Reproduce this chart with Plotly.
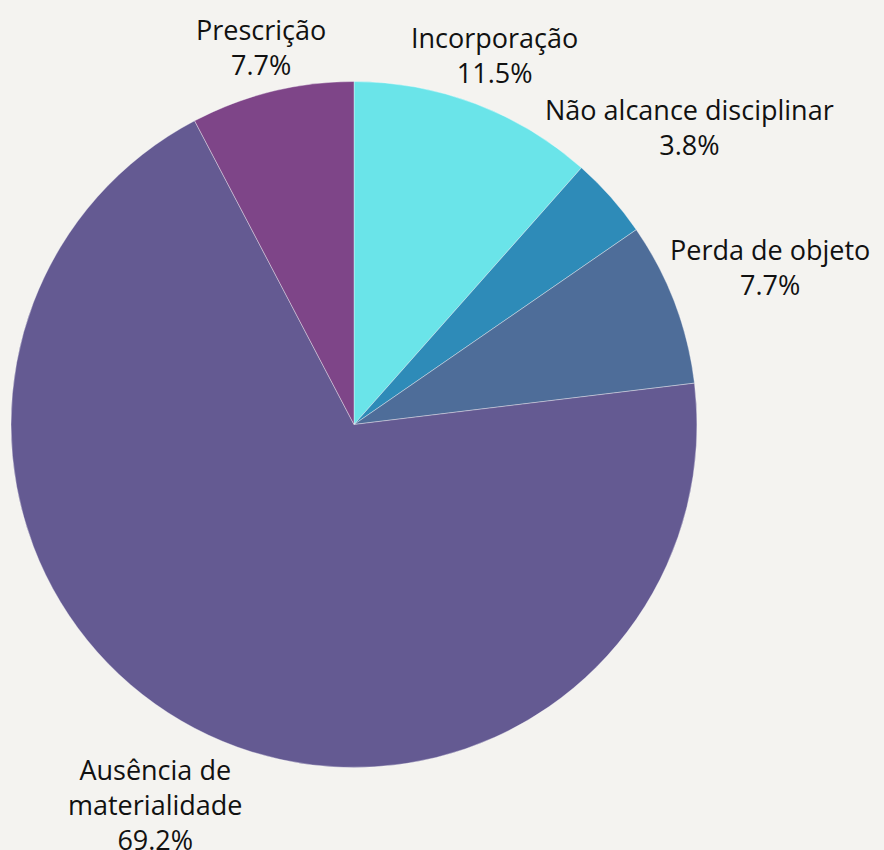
import math
import plotly.graph_objects as go

labels = ["Incorporação", "Não alcance disciplinar", "Perda de objeto",
          "Ausência de materialidade", "Prescrição"]
display_labels = ["Incorporação", "Não alcance disciplinar", "Perda de objeto",
                  "Ausência de<br>materialidade", "Prescrição"]
values = [3, 1, 2, 18, 2]
colors = ["#6ae4e9", "#2e8bb8", "#4e6d99", "#645a92", "#7e4588"]

# label distance from pie centre, as a multiple of the radius (style)
label_dist = [1.152, 1.306, 1.297, 1.25, 1.134]

W, H = 884, 850
cx_px, cy_px, r_px = 354, 424.5, 343

dom_x = [(cx_px - r_px) / W, (cx_px + r_px) / W]
dom_y = [1 - (cy_px + r_px) / H, 1 - (cy_px - r_px) / H]

fig = go.Figure(go.Pie(
    labels=labels,
    values=values,
    textinfo="none",
    marker=dict(colors=colors, line=dict(color="rgba(255,255,255,0.6)", width=0.6)),
    sort=False,
    direction="clockwise",
    rotation=0,
    showlegend=False,
    automargin=False,
    domain=dict(x=dom_x, y=dom_y),
    hovertemplate="%{label}<br>%{value} (%{percent:.1%})<extra></extra>",
))

total = sum(values)
cum = 0
annotations = []
for lab, v, d in zip(display_labels, values, label_dist):
    mid = (cum + v / 2) / total * 2 * math.pi
    cum += v
    x_px = cx_px + d * r_px * math.sin(mid)
    y_px = cy_px - d * r_px * math.cos(mid)
    annotations.append(dict(
        x=x_px / W, y=1 - y_px / H, xref="paper", yref="paper",
        text=f"{lab}<br>{v / total:.1%}",
        showarrow=False, xanchor="center", yanchor="middle", align="center",
        font=dict(family="Open Sans", size=27, color="#111111"),
    ))

fig.update_layout(
    width=W, height=H,
    margin=dict(l=0, r=0, t=0, b=0),
    paper_bgcolor="#f4f3f0",
    plot_bgcolor="#f4f3f0",
    font=dict(family="Open Sans"),
    annotations=annotations,
)

fig.write_html(
    "out.html",
    config={"displayModeBar": False},
    post_script="document.body.style.margin='0';document.body.style.background='#f4f3f0';",
)
